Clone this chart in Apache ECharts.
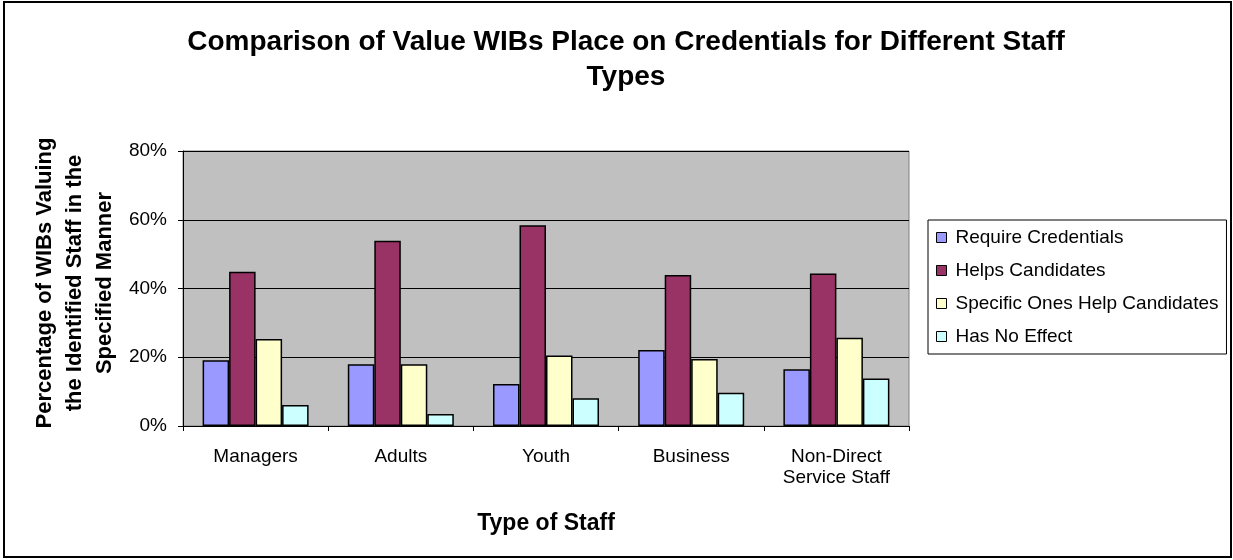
<!DOCTYPE html>
<html>
<head>
<meta charset="utf-8">
<script src="https://cdn.jsdelivr.net/npm/echarts@6/dist/echarts.min.js"></script>
<style>
  html, body { margin: 0; padding: 0; background: #fff; }
  #chart { width: 1233px; height: 560px; }
</style>
</head>
<body>
<div id="chart"></div>
<script>
// Staff types surveyed
const categories = ['Managers', 'Adults', 'Youth', 'Business', 'Non-Direct\nService Staff'];

// Percentage of WIBs giving each answer, per staff type
const requireCredentials = [19.1, 18.0, 12.2, 22.1, 16.5];
const helpsCandidates = [44.9, 53.9, 58.4, 43.9, 44.4];
const specificOnesHelp = [25.3, 18.0, 20.5, 19.5, 25.7];
const hasNoEffect = [6.1, 3.5, 8.1, 9.7, 13.8];

const seriesNames = ['Require Credentials', 'Helps Candidates', 'Specific Ones Help Candidates', 'Has No Effect'];
const seriesColors = ['#9999FF', '#993366', '#FFFFCC', '#CCFFFF'];
const seriesValues = [requireCredentials, helpsCandidates, specificOnesHelp, hasNoEffect];

const yTicks = { min: 0, max: 80, interval: 20 };

const FONT = '"Liberation Sans", Arial, sans-serif';

const chart = echarts.init(document.getElementById('chart'), null, { renderer: 'canvas' });

const yTitleLines = ['Percentage of WIBs Valuing', 'the Identified Staff in the', 'Specified Manner'];
const yTitleX = [45, 75, 105];

chart.setOption({
  animation: false,
  backgroundColor: '#ffffff',
  title: {
    text: 'Comparison of Value WIBs Place on Credentials for Different Staff\nTypes',
    left: 621,
    top: 20,
    textAlign: 'center',
    textStyle: { fontFamily: FONT, fontSize: 28, fontWeight: 'bold', color: '#000', lineHeight: 35 }
  },
  legend: {
    orient: 'vertical',
    left: 928,
    top: 220,
    padding: [8, 8, 8, 8],
    itemGap: 14,
    itemWidth: 10,
    itemHeight: 10,
    borderColor: '#000',
    borderWidth: 1,
    backgroundColor: '#fff',
    icon: 'rect',
    itemStyle: { borderColor: '#000', borderWidth: 1 },
    textStyle: { fontFamily: FONT, fontSize: 19, color: '#000', padding: [0, 0, 0, 4] },
    data: seriesNames
  },
  grid: {
    left: 183,
    right: 1233 - 909,
    top: 151,
    bottom: 560 - 426,
    show: true,
    backgroundColor: '#C0C0C0',
    borderColor: '#808080',
    borderWidth: 1
  },
  xAxis: {
    type: 'category',
    data: categories,
    axisLine: { lineStyle: { color: '#000', width: 1 } },
    axisTick: { show: true, alignWithLabel: false, length: 5, lineStyle: { color: '#000' } },
    axisLabel: { fontFamily: FONT, fontSize: 19, color: '#000', margin: 20, lineHeight: 21 },
    name: 'Type of Staff',
    nameLocation: 'middle',
    nameGap: 86,
    nameTextStyle: { fontFamily: FONT, fontSize: 23, fontWeight: 'bold', color: '#000' }
  },
  yAxis: {
    type: 'value',
    min: yTicks.min,
    max: yTicks.max,
    interval: yTicks.interval,
    axisLine: { show: true, lineStyle: { color: '#000', width: 1 } },
    axisTick: { show: true, length: 5, lineStyle: { color: '#000' } },
    axisLabel: { fontFamily: FONT, fontSize: 19, color: '#000', margin: 16, formatter: '{value}%' },
    splitLine: { show: true, lineStyle: { color: '#000', width: 1 } }
  },
  series: seriesNames.map((name, i) => ({
    name: name,
    type: 'bar',
    data: seriesValues[i],
    barGap: '0%',
    barCategoryGap: '27%',
    itemStyle: { color: seriesColors[i], borderColor: '#000', borderWidth: 1.5 }
  })),
  graphic: [
    {
      type: 'rect',
      shape: { x: 4, y: 2, width: 1227, height: 555 },
      style: { fill: 'none', stroke: '#000', lineWidth: 2 },
      silent: true,
      z: 100
    }
  ].concat(yTitleLines.map((line, i) => ({
    type: 'text',
    x: yTitleX[i],
    y: 283,
    rotation: Math.PI / 2,
    style: {
      text: line,
      fontFamily: FONT,
      fontSize: 22,
      fontWeight: 'bold',
      fill: '#000',
      align: 'center',
      verticalAlign: 'middle'
    }
  })))
});
</script>
</body>
</html>
